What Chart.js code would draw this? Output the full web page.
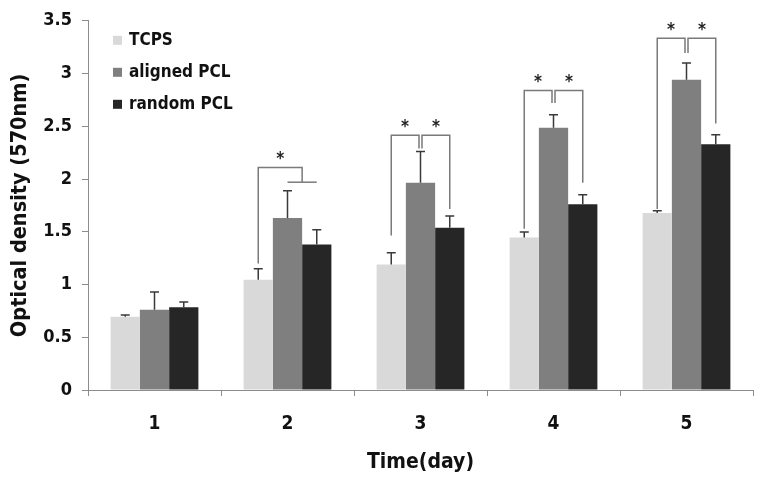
<!DOCTYPE html>
<html>
<head>
<meta charset="utf-8">
<script src="https://cdn.jsdelivr.net/npm/chart.js"></script>
<style>
  body { margin: 0; background: #fff; }
  #wrap { width: 766px; height: 478px; }
</style>
</head>
<body>
<div id="wrap"><canvas id="odChart"></canvas></div>
<script>
// chart data
const days = ["1", "2", "3", "4", "5"];
const seriesNames = ["TCPS", "aligned PCL", "random PCL"];
const seriesColors = ["#d9d9d9", "#7f7f7f", "#262626"];

const tcps = [0.695, 1.045, 1.19, 1.445, 1.677];
const tcpsErr = [0.015, 0.105, 0.11, 0.053, 0.023];
const aligned = [0.76, 1.63, 1.965, 2.485, 2.94];
const alignedErr = [0.17, 0.26, 0.295, 0.125, 0.16];
const random = [0.785, 1.38, 1.537, 1.76, 2.33];
const randomErr = [0.05, 0.14, 0.113, 0.09, 0.09];

const yMax = 3.5;
const yStep = 0.5;

// significance brackets: [day index, from series, to series, top value, from-leg end, to-leg end]
// a fractional series (1.5) means the middle between two bars
const brackets = [
    [1, 0, 1.5, 2.11, 1.2, 1.97],
    [2, 0, 1, 2.416, 1.465, 2.29],
    [2, 1, 2, 2.416, 2.29, 1.715],
    [3, 0, 1, 2.84, 1.528, 2.72],
    [3, 1, 2, 2.84, 2.72, 1.965],
    [4, 0, 1, 3.335, 1.715, 3.195],
    [4, 1, 2, 3.335, 3.195, 2.526]
];
// flat cross bars: [day index, from series, to series, value]
const crossBars = [
    [1, 1, 2, 1.97]
];

const fontFamily = "'DejaVu Sans Condensed', 'DejaVu Sans', sans-serif";
const errors = [tcpsErr, alignedErr, randomErr];

// upper error bars with a cap
const errorBarPlugin = {
    id: "errorBars",
    afterDatasetsDraw(chart) {
        const ctx = chart.ctx;
        const y = chart.scales.y;
        ctx.save();
        ctx.strokeStyle = "#3a3a3a";
        ctx.lineWidth = 1.5;
        chart.data.datasets.forEach((ds, s) => {
            const meta = chart.getDatasetMeta(s);
            meta.data.forEach((bar, i) => {
                const top = y.getPixelForValue(ds.data[i] + errors[s][i]);
                const base = y.getPixelForValue(ds.data[i]);
                ctx.beginPath();
                ctx.moveTo(bar.x, base);
                ctx.lineTo(bar.x, top);
                ctx.moveTo(bar.x - 4.5, top);
                ctx.lineTo(bar.x + 4.5, top);
                ctx.stroke();
            });
        });
        ctx.restore();
    }
};

// brackets and asterisks
const bracketPlugin = {
    id: "brackets",
    afterDatasetsDraw(chart) {
        const ctx = chart.ctx;
        const y = chart.scales.y;
        const barX = (s, i) => {
            const lo = Math.floor(s), hi = Math.ceil(s);
            const a = chart.getDatasetMeta(lo).data[i].x;
            const b = chart.getDatasetMeta(hi).data[i].x;
            return a + (b - a) * (s - lo);
        };
        ctx.save();
        ctx.strokeStyle = "#7a7a7a";
        ctx.lineWidth = 1.5;
        brackets.forEach(([i, from, to, top, fromEnd, toEnd]) => {
            let x1 = barX(from, i);
            let x2 = barX(to, i);
            if (from === 1) x1 += 1.5;
            if (to === 1) x2 -= 1.5;
            const yt = y.getPixelForValue(top);
            ctx.beginPath();
            ctx.moveTo(x1, y.getPixelForValue(fromEnd));
            ctx.lineTo(x1, yt);
            ctx.lineTo(x2, yt);
            ctx.lineTo(x2, y.getPixelForValue(toEnd));
            ctx.stroke();
            ctx.fillStyle = "#222";
            ctx.font = "bold 17px " + fontFamily;
            ctx.textAlign = "center";
            ctx.textBaseline = "middle";
            ctx.fillText("*", (x1 + x2) / 2, yt - 8);
        });
        crossBars.forEach(([i, from, to, val]) => {
            const yv = y.getPixelForValue(val);
            ctx.beginPath();
            ctx.moveTo(barX(from, i), yv);
            ctx.lineTo(barX(to, i), yv);
            ctx.stroke();
        });
        ctx.restore();
    }
};

// legend inside the plot, top left
const innerLegendPlugin = {
    id: "innerLegend",
    afterDraw(chart) {
        const ctx = chart.ctx;
        const area = chart.chartArea;
        ctx.save();
        ctx.font = "bold 17px " + fontFamily;
        ctx.textAlign = "left";
        ctx.textBaseline = "middle";
        chart.data.datasets.forEach((ds, s) => {
            const cy = area.top + 20 + s * 32;
            ctx.fillStyle = ds.backgroundColor;
            ctx.fillRect(area.left + 25, cy - 5, 9, 9);
            ctx.fillStyle = "#111";
            ctx.fillText(ds.label, area.left + 41, cy);
        });
        ctx.restore();
    }
};

const values = [tcps, aligned, random];

new Chart(document.getElementById("odChart"), {
    type: "bar",
    data: {
        labels: days,
        datasets: seriesNames.map((name, s) => ({
            label: name,
            data: values[s],
            backgroundColor: seriesColors[s],
            borderWidth: 0,
            categoryPercentage: 0.66,
            barPercentage: 1.0
        }))
    },
    options: {
        responsive: true,
        maintainAspectRatio: false,
        animation: false,
        layout: { padding: { left: 0, right: 13, top: 16, bottom: 0 } },
        plugins: {
            legend: { display: false },
            tooltip: { enabled: false }
        },
        scales: {
            x: {
                grid: { display: true, drawOnChartArea: false, tickLength: 6, color: "#8c8c8c", offset: true },
                border: { color: "#8c8c8c", width: 1 },
                ticks: { color: "#111", padding: 17, font: { family: fontFamily, size: 19, weight: "bold" } },
                title: {
                    display: true,
                    text: "Time(day)",
                    color: "#111",
                    font: { family: fontFamily, size: 21, weight: "bold" },
                    padding: { top: 0, bottom: 3 }
                },
                afterFit(scale) { scale.height = 88; }
            },
            y: {
                min: 0,
                max: yMax,
                grid: { display: true, drawOnChartArea: false, tickLength: 6, color: "#8c8c8c" },
                border: { color: "#8c8c8c", width: 1 },
                ticks: {
                    stepSize: yStep,
                    color: "#111",
                    padding: 10,
                    font: { family: fontFamily, size: 18, weight: "bold" },
                    callback: (value) => String(value)
                },
                title: {
                    display: true,
                    text: "Optical density (570nm)",
                    color: "#111",
                    font: { family: fontFamily, size: 21.5, weight: "bold" },
                    padding: { top: 8, bottom: 0 }
                },
                afterFit(scale) { scale.width = 88; }
            }
        }
    },
    plugins: [errorBarPlugin, bracketPlugin, innerLegendPlugin]
});
</script>
</body>
</html>
